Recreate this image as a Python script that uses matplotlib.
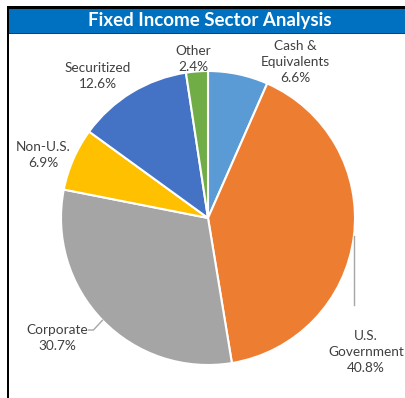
import matplotlib.pyplot as plt
import numpy as np
from matplotlib.patches import Rectangle

sectors = ['Cash &\nEquivalents', 'U.S.\nGovernment', 'Corporate', 'Non-U.S.', 'Securitized', 'Other']
weights = [6.6, 40.8, 30.7, 6.9, 12.6, 2.4]
colors = ['#5B9BD5', '#ED7D31', '#A5A5A5', '#FFC000', '#4472C4', '#70AD47']

W, H = 405, 398
fig = plt.figure(figsize=(W / 100, H / 100), dpi=100)
ax = fig.add_axes([0, 0, 1, 1])

font = 'Lato'
txt = '#404040'

# frame and title band
ax.add_patch(Rectangle((7, 0), 2, H - 6, color='black', lw=0))
ax.add_patch(Rectangle((7, H - 9), W - 7, 3, color='black', lw=0))
ax.add_patch(Rectangle((9, H - 33), W - 9, 24, color='#0070C0', lw=0))
ax.add_patch(Rectangle((9, H - 34), W - 9, 1.2, color='#1F3F60', lw=0))
ax.text(210, H - 20.5, 'Fixed Income Sector Analysis', color='white', fontsize=13.5,
        fontweight='bold', family=font, ha='center', va='center')

cx, cy, r = 208, H - 218, 147
wedges, _ = ax.pie(weights, colors=colors, startangle=90, counterclock=False,
                   center=(cx, cy), radius=r, frame=True,
                   wedgeprops=dict(edgecolor='white', linewidth=1.5))
ax.set_xlim(0, W)
ax.set_ylim(0, H)
ax.set_aspect('auto')
ax.axis('off')

# label positions (pixel coords from top)
label_pos = [(295, 62), (366, 352), (57, 338), (43, 155), (98, 76), (193, 59)]
for name, w, (lx, ly) in zip(sectors, weights, label_pos):
    ax.text(lx, H - ly, f'{name}\n{w}%', color=txt, fontsize=9.8, family=font,
            ha='center', va='center', linespacing=1.45)

# leader lines
def edge_point(wedge):
    mid = np.deg2rad((wedge.theta1 + wedge.theta2) / 2)
    return cx + r * np.cos(mid), cy + r * np.sin(mid)

gx, gy = edge_point(wedges[1])
ax.plot([gx, gx], [gy, H - 305], color='#A6A6A6', lw=1)
px, py = edge_point(wedges[2])
ax.plot([px, px - 9, px - 14], [py, H - 330, H - 330], color='#A6A6A6', lw=1)

fig.savefig('out.png', dpi=100)
